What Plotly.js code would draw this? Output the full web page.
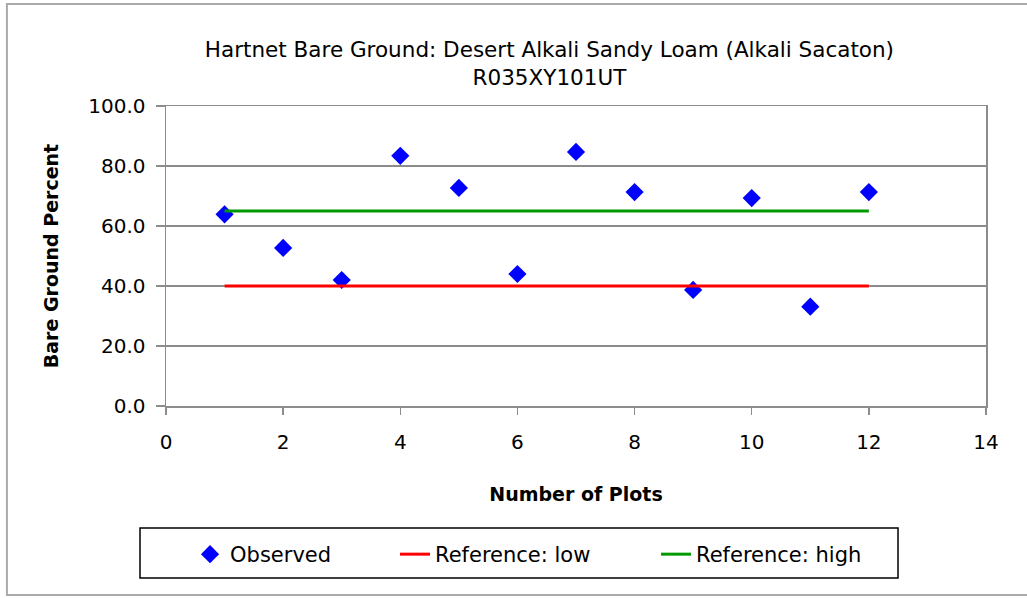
<!DOCTYPE html>
<html>
<head>
<meta charset="utf-8">
<script src="https://cdn.plot.ly/plotly-3.0.1.min.js"></script>
<style>
  html, body { margin: 0; padding: 0; background: #fff; }
  #chart { width: 1027px; height: 598px; }
</style>
</head>
<body>
<div id="chart"></div>
<script>
// ---- data ----
const plotNumbers = [1, 2, 3, 4, 5, 6, 7, 8, 9, 10, 11, 12];
const observed    = [63.9, 52.7, 42.0, 83.4, 72.7, 44.0, 84.7, 71.3, 38.7, 69.3, 33.1, 71.3];
const refLow      = [40, 40, 40, 40, 40, 40, 40, 40, 40, 40, 40, 40];
const refHigh     = [65, 65, 65, 65, 65, 65, 65, 65, 65, 65, 65, 65];
const seriesNames = ["Observed", "Reference: low", "Reference: high"];
const titleText   = "Hartnet Bare Ground: Desert Alkali Sandy Loam (Alkali Sacaton)<br>R035XY101UT";
const xTitle      = "Number of Plots";
const yTitle      = "Bare Ground Percent";

const FONT = "'DejaVu Sans', Verdana, sans-serif";

const traces = [
  {
    x: plotNumbers, y: observed, name: seriesNames[0],
    type: "scatter", mode: "markers", legend: "legend",
    marker: { symbol: "diamond", color: "#0000ff", size: 14 }
  },
  {
    x: plotNumbers, y: refLow, name: seriesNames[1],
    type: "scatter", mode: "lines", legend: "legend2",
    line: { color: "#ff0000", width: 3 }
  },
  {
    x: plotNumbers, y: refHigh, name: seriesNames[2],
    type: "scatter", mode: "lines", legend: "legend3",
    line: { color: "#009a00", width: 3 }
  }
];

function legendAt(xPaper) {
  return {
    orientation: "h",
    x: xPaper, xanchor: "left",
    y: -0.4267, yanchor: "top",
    bgcolor: "rgba(0,0,0,0)", borderwidth: 0,
    font: { family: FONT, size: 21, color: "#000" }
  };
}

const layout = {
  width: 1027, height: 598,
  margin: { l: 166, r: 41, t: 106, b: 192, pad: 0, autoexpand: false },
  paper_bgcolor: "#ffffff",
  plot_bgcolor: "#ffffff",
  font: { family: FONT, size: 20, color: "#000" },
  showlegend: true,
  title: {
    text: titleText,
    font: { family: FONT, size: 21.5, color: "#000" },
    x: 0.535, xanchor: "center",
    y: 0.905, yanchor: "top", yref: "container"
  },
  xaxis: {
    range: [0, 14], dtick: 2, tick0: 0,
    showgrid: false, zeroline: false,
    showline: true, linecolor: "#8c8c8c", linewidth: 1.5, mirror: true,
    ticks: "outside", ticklen: 7, tickcolor: "#8c8c8c", tickwidth: 1.5,
    ticklabelstandoff: 10,
    tickfont: { family: FONT, size: 20, color: "#000" },
    title: { text: xTitle, standoff: 35, font: { family: FONT, size: 19, color: "#000", weight: "bold" } }
  },
  yaxis: {
    range: [0, 100], dtick: 20, tick0: 0, tickformat: ".1f",
    showgrid: true, gridcolor: "#8c8c8c", gridwidth: 1.5, zeroline: false,
    showline: true, linecolor: "#8c8c8c", linewidth: 1.5, mirror: true,
    ticks: "outside", ticklen: 9, tickcolor: "#8c8c8c", tickwidth: 1.5,
    ticklabelstandoff: 6,
    tickfont: { family: FONT, size: 20, color: "#000" },
    title: { text: yTitle, standoff: 24, font: { family: FONT, size: 19, color: "#000", weight: "bold" } }
  },
  legend: legendAt(0.0293),
  legend2: legendAt(0.2793),
  legend3: legendAt(0.5976),
  shapes: [
    {
      type: "rect", xref: "paper", yref: "paper",
      x0: -0.194, x1: 1.07, y0: -0.63, y1: 1.34,
      line: { color: "#aaaaaa", width: 2 }, fillcolor: "rgba(0,0,0,0)", layer: "below"
    },
    {
      type: "rect", xref: "paper", yref: "paper",
      x0: -0.0317, x1: 0.8927, y0: -0.5733, y1: -0.4067,
      line: { color: "#000000", width: 1.5 }, fillcolor: "rgba(0,0,0,0)", layer: "below"
    }
  ]
};

Plotly.newPlot("chart", traces, layout, { displayModeBar: false, staticPlot: true });
</script>
</body>
</html>
